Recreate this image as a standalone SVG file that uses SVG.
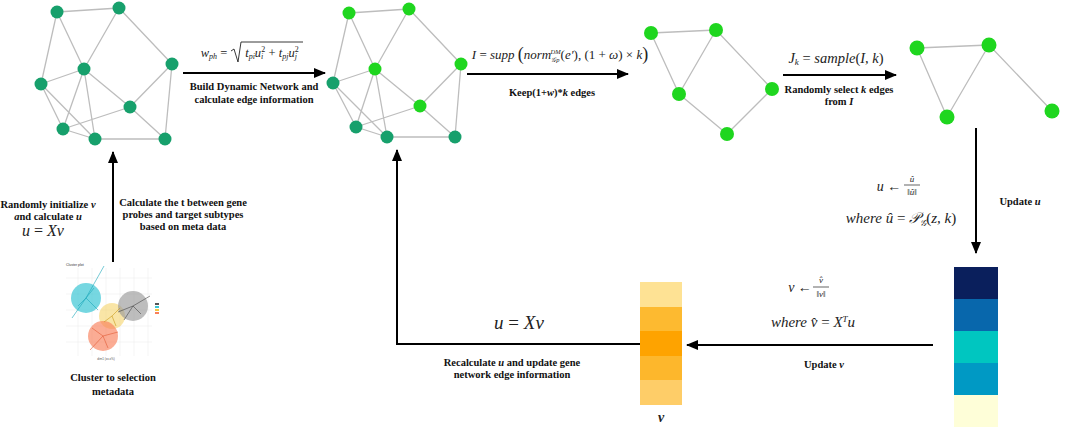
<svg xmlns="http://www.w3.org/2000/svg" width="1065" height="430" viewBox="0 0 1065 430">
<style>
.e{stroke:#bdbdbd;stroke-width:1.3;fill:none}
.dk{fill:#17a06c}
.lt{fill:#1fd61f}
.ar{stroke:#000;stroke-width:2;fill:none}
.lb{font-family:"Liberation Serif",serif;font-weight:bold;font-size:10.5px;fill:#111;text-anchor:middle}
.f{font-family:"Liberation Serif","DejaVu Serif",serif;font-style:italic;fill:#222;text-anchor:middle}
</style>
<defs>
<marker id="ah" markerUnits="userSpaceOnUse" markerWidth="12" markerHeight="10" refX="11" refY="5" orient="auto">
<path d="M0,0 L12,5 L0,10 z" fill="#000"/>
</marker>
</defs>
<rect width="1065" height="430" fill="#fff"/>

<g id="graph1">
<path class="e" d="M57,12L119,8M57,12L41,84M57,12L84,69M119,8L84,69M119,8L172,64M172,64L130,107M172,64L165,139M84,69L41,84M84,69L130,107M84,69L63,129M84,69L95,139M41,84L63,129M41,84L95,139M130,107L63,129M130,107L165,139M63,129L95,139M95,139L165,139"/>
<g class="dk"><circle cx="57" cy="12" r="6.5"/><circle cx="119" cy="8" r="6.5"/><circle cx="172" cy="64" r="6.5"/><circle cx="84" cy="69" r="6.5"/><circle cx="41" cy="84" r="6.5"/><circle cx="130" cy="107" r="6.5"/><circle cx="63" cy="129" r="6.5"/><circle cx="95" cy="139" r="6.5"/><circle cx="165" cy="139" r="6.5"/></g>
</g>

<g id="graph2">
<path class="e" d="M349,13L409,9M349,13L333,83M349,13L375,69M409,9L375,69M409,9L461,64M461,64L420,106M461,64L455,137M375,69L333,83M375,69L420,106M375,69L356,127M375,69L387,137M333,83L356,127M333,83L387,137M420,106L356,127M420,106L455,137M356,127L387,137M387,137L455,137"/>
<g class="lt"><circle cx="349" cy="13" r="6.5"/><circle cx="409" cy="9" r="6.5"/><circle cx="461" cy="64" r="6.5"/><circle cx="375" cy="69" r="6.5"/><circle cx="420" cy="106" r="6.5"/></g>
<g class="dk"><circle cx="333" cy="83" r="6.5"/><circle cx="356" cy="127" r="6.5"/><circle cx="387" cy="137" r="6.5"/><circle cx="455" cy="137" r="6.5"/></g>
</g>

<g id="graph3">
<path class="e" d="M651,33L716,30M651,33L679,94M716,30L679,94M716,30L772,89M679,94L727,134M772,89L727,134"/>
<g class="lt"><circle cx="651" cy="33" r="7"/><circle cx="716" cy="30" r="7"/><circle cx="772" cy="89" r="7"/><circle cx="679" cy="94" r="7"/><circle cx="727" cy="134" r="7"/></g>
</g>

<g id="graph4">
<path class="e" d="M917,48L989,45M917,48L947,117M989,45L947,117M989,45L1052,111"/>
<g class="lt"><circle cx="917" cy="48" r="7.5"/><circle cx="989" cy="45" r="7.5"/><circle cx="947" cy="117" r="7.5"/><circle cx="1052" cy="111" r="7.5"/></g>
</g>

<g id="scatter">
<rect x="62" y="262" width="95" height="100" fill="#fff"/>
<text x="66" y="266" font-family="Liberation Sans,sans-serif" font-size="3.5" fill="#333">Cluster plot</text>
<g stroke="#eee" stroke-width="0.6">
<path d="M66,278H152M66,294H152M66,310H152M66,326H152M66,342H152M78,268V356M92,268V356M106,268V356M120,268V356M134,268V356M148,268V356"/>
</g>
<circle cx="86" cy="298" r="15" fill="#3cc6d4" fill-opacity="0.7"/>
<circle cx="112" cy="316" r="13" fill="#f5d36a" fill-opacity="0.6"/>
<circle cx="133" cy="306" r="15" fill="#9a9a9a" fill-opacity="0.65"/>
<circle cx="103" cy="336" r="15" fill="#f9805a" fill-opacity="0.65"/>
<g stroke-width="0.6">
<path d="M86,298L104,266M86,298L72,318M86,298L94,288M86,298L78,306M86,298L98,310" stroke="#1aa6b8"/>
<path d="M133,306L150,296M133,306L124,320M133,306L141,314M133,306L118,312" stroke="#444"/>
<path d="M112,316L120,308M112,316L104,322M112,316L116,326" stroke="#c99a1a"/>
<path d="M103,336L90,350M103,336L118,332M103,336L108,348M103,336L92,328" stroke="#e05a36"/>
</g>
<rect x="155" y="303" width="4" height="2" fill="#555"/>
<rect x="155" y="306" width="4" height="2" fill="#3cc6d4"/>
<rect x="155" y="309" width="4" height="2" fill="#f5c640"/>
<rect x="155" y="312" width="4" height="2" fill="#f9805a"/>
<text x="106" y="360" font-family="Liberation Sans,sans-serif" font-size="3" fill="#555" text-anchor="middle">dim1 (xx.x%)</text>
</g>

<g id="vbar">
<rect x="640" y="282" width="42" height="25" fill="#fee294"/>
<rect x="640" y="307" width="42" height="24" fill="#fdba30"/>
<rect x="640" y="331" width="42" height="25" fill="#fea300"/>
<rect x="640" y="356" width="42" height="24" fill="#fdb72c"/>
<rect x="640" y="380" width="42" height="25" fill="#fecd68"/>
<text x="661" y="422" class="f" font-size="14" font-weight="bold">v</text>
</g>

<g id="ubar">
<rect x="954" y="267" width="44" height="32" fill="#0a1f5c"/>
<rect x="954" y="299" width="44" height="32" fill="#0867ac"/>
<rect x="954" y="331" width="44" height="32" fill="#00c6c0"/>
<rect x="954" y="363" width="44" height="32" fill="#0099c4"/>
<rect x="954" y="395" width="44" height="32" fill="#fefed8"/>
</g>

<g id="connectors">
<line class="ar" x1="183" y1="73" x2="325" y2="73" marker-end="url(#ah)"/>
<line class="ar" x1="467" y1="74" x2="628" y2="74" marker-end="url(#ah)"/>
<line class="ar" x1="783" y1="75" x2="896" y2="75" marker-end="url(#ah)"/>
<line class="ar" x1="976" y1="128" x2="976" y2="253" marker-end="url(#ah)"/>
<line class="ar" x1="933" y1="345" x2="687" y2="345" marker-end="url(#ah)"/>
<polyline class="ar" points="640,344 397,344 397,150" marker-end="url(#ah)"/>
<line class="ar" x1="113" y1="262" x2="113" y2="152" marker-end="url(#ah)"/>
</g>

<g id="labels">
<text class="lb" x="254" y="90">Build Dynamic Network and</text>
<text class="lb" x="254" y="103">calculate edge information</text>
<text class="lb" x="552" y="96">Keep(1+<tspan font-style="italic">w</tspan>)*<tspan font-style="italic">k</tspan> edges</text>
<text class="lb" x="839" y="93">Randomly select <tspan font-style="italic">k</tspan> edges</text>
<text class="lb" x="839" y="105">from <tspan font-style="italic">I</tspan></text>
<text class="lb" x="48" y="208">Randomly initialize <tspan font-style="italic">v</tspan></text>
<text class="lb" x="48" y="220"><tspan font-style="italic">a</tspan>nd calculate <tspan font-style="italic">u</tspan></text>
<text class="lb" x="183" y="206">Calculate the t between gene</text>
<text class="lb" x="183" y="218">probes and target subtypes</text>
<text class="lb" x="183" y="230">based on meta data</text>
<text class="lb" x="113" y="381" font-size="11.5">Cluster to selection</text>
<text class="lb" x="113" y="395" font-size="11.5">metadata</text>
<text class="lb" x="1020" y="205">Update <tspan font-style="italic">u</tspan></text>
<text class="lb" x="824" y="368">Update <tspan font-style="italic">v</tspan></text>
<text class="lb" x="512" y="366">Recalculate <tspan font-style="italic">u</tspan> and update gene</text>
<text class="lb" x="512" y="378">network edge information</text>
</g>

<g id="formulas">
<text class="f" x="214" y="57" font-size="12.5">w<tspan font-size="8" dy="2">ph</tspan><tspan dy="-2" font-style="normal"> = </tspan></text>
<path d="M231,51 L234,49 L238,62 L241,42 H303" stroke="#222" stroke-width="0.9" fill="none"/>
<text class="f" x="272" y="57" font-size="12.5">t<tspan font-size="8" dy="2">pi</tspan><tspan dy="-2">u</tspan><tspan font-size="8" dy="2">i</tspan><tspan font-size="8" dy="-7" dx="-2" font-style="normal">2</tspan><tspan dy="5" font-style="normal"> + </tspan>t<tspan font-size="8" dy="2">pj</tspan><tspan dy="-2">u</tspan><tspan font-size="8" dy="2">j</tspan><tspan font-size="8" dy="-7" dx="-2" font-style="normal">2</tspan></text>

<text class="f" x="560" y="59" font-size="13">I<tspan font-style="normal"> = </tspan>supp <tspan font-size="18" font-style="normal" dy="1">(</tspan><tspan dy="-1">norm</tspan><tspan font-size="6.5" dy="3">𝒢p</tspan><tspan font-size="6.5" dx="-9" dy="-8">DM</tspan><tspan dy="5" font-style="normal">(</tspan>e′<tspan font-style="normal">), (1 + </tspan>ω<tspan font-style="normal">) × </tspan>k<tspan font-size="18" font-style="normal" dy="1">)</tspan></text>

<text class="f" x="836" y="63" font-size="14.5">J<tspan font-size="9" dy="2">k</tspan><tspan dy="-2" font-style="normal"> = </tspan>sample<tspan font-style="normal">(</tspan>I, k<tspan font-style="normal">)</tspan></text>

<text class="f" x="43" y="236" font-size="16">u <tspan font-style="normal">=</tspan> Xv</text>
<text class="f" x="519" y="329" font-size="19">u <tspan font-style="normal">=</tspan> Xv</text>

<text class="f" x="889" y="191" font-size="14">u <tspan font-style="normal">←</tspan></text>
<text class="f" x="912" y="182" font-size="9">û</text>
<line x1="904" y1="185" x2="920" y2="185" stroke="#222" stroke-width="0.7"/>
<text class="f" x="912" y="195" font-size="9">‖û‖</text>
<text class="f" x="901" y="223" font-size="15">where û <tspan font-style="normal">=</tspan> 𝒫<tspan font-size="9" dy="3">𝒢</tspan><tspan dy="-3" font-style="normal">(</tspan>z, k<tspan font-style="normal">)</tspan></text>

<text class="f" x="800" y="292" font-size="14">v <tspan font-style="normal">←</tspan></text>
<text class="f" x="821" y="283" font-size="9">v̂</text>
<line x1="813" y1="287" x2="829" y2="287" stroke="#222" stroke-width="0.7"/>
<text class="f" x="821" y="297" font-size="9">‖v‖</text>
<text class="f" x="813" y="327" font-size="15">where  v̂ <tspan font-style="normal">=</tspan> X<tspan font-size="9" dy="-5">T</tspan><tspan dy="5">u</tspan></text>
</g>
</svg>
